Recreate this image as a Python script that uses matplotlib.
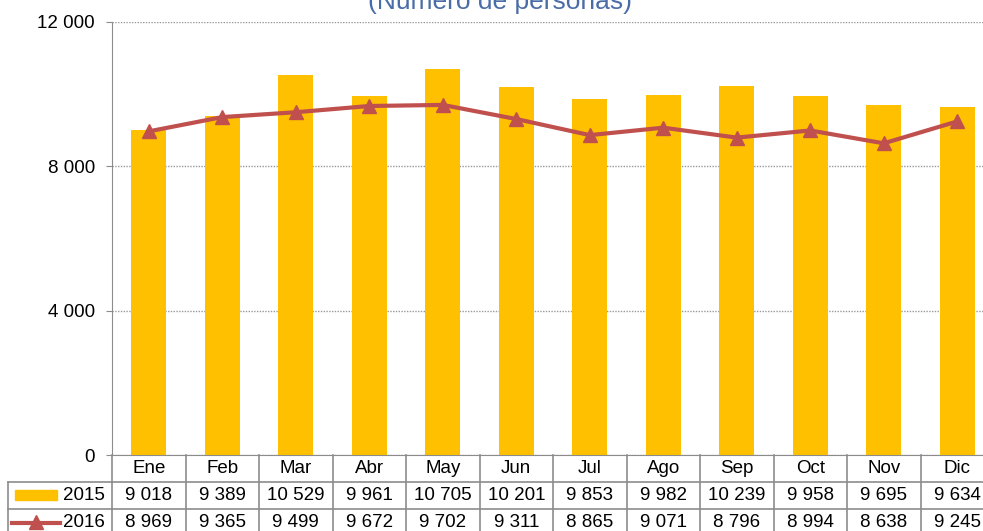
import matplotlib
matplotlib.use("Agg")
import matplotlib.pyplot as plt
from matplotlib.transforms import blended_transform_factory
from matplotlib.lines import Line2D
from matplotlib.patches import Rectangle

plt.rcParams['font.family'] = ['Liberation Sans', 'DejaVu Sans']

# Data
months = ['Ene', 'Feb', 'Mar', 'Abr', 'May', 'Jun', 'Jul', 'Ago', 'Sep', 'Oct', 'Nov', 'Dic']
v2015 = [9018, 9389, 10529, 9961, 10705, 10201, 9853, 9982, 10239, 9958, 9695, 9634]
v2016 = [8969, 9365, 9499, 9672, 9702, 9311, 8865, 9071, 8796, 8994, 8638, 9245]
yticks = [0, 4000, 8000, 12000]

W, H = 983, 531
bar_col = '#FFC000'
line_col = '#C0504D'
grid_col = '#8C8C8C'
fs = 13.5

def fy(py):
    # pixel from top -> figure fraction
    return 1 - py / H

def fmt(v):
    return '{:,}'.format(v).replace(',', ' ')

fig = plt.figure(figsize=(W / 100, H / 100), dpi=100)
ax = fig.add_axes([112 / W, fy(455), (994 - 112) / W, (455 - 22) / H])

x = list(range(len(months)))
ax.bar(x, v2015, width=0.47, color=bar_col, zorder=2)
ax.plot(x, v2016, color=line_col, lw=3, marker='^', ms=10, zorder=3)

ax.set_xlim(-0.5, len(months) - 0.5)
ax.set_ylim(0, 12000)
ax.set_yticks(yticks)
ax.set_yticklabels([fmt(v) for v in yticks], fontsize=fs)
ax.set_xticks([])
ax.yaxis.grid(True, linestyle=(0, (1, 1)), color='#999999', lw=1)
ax.set_axisbelow(True)
for s in ['top', 'right']:
    ax.spines[s].set_visible(False)
ax.spines['left'].set_color(grid_col)
ax.spines['bottom'].set_color(grid_col)
ax.tick_params(axis='y', length=4.3, color=grid_col, pad=8)

fig.text(500 / W, fy(9), '(Número de personas)', ha='center', va='baseline',
         fontsize=19, color='#4A6DA7')

# Data table below the chart
tr = blended_transform_factory(ax.transData, fig.transFigure)
figtr = fig.transFigure
rows = [455, 482, 509, 536]
n = len(months)

def hline(x0, x1, py, transform):
    fig.add_artist(Line2D([x0, x1], [fy(py), fy(py)], color=grid_col, lw=1.2,
                          transform=transform, clip_on=False))

def vline(xx, py0, py1, transform):
    fig.add_artist(Line2D([xx, xx], [fy(py0), fy(py1)], color=grid_col, lw=1.2,
                          transform=transform, clip_on=False))

hline(-0.5, n - 0.5, rows[1], tr)
hline(-0.5, n - 0.5, rows[2], tr)
hline(8 / W, 112 / W, rows[1], figtr)
hline(8 / W, 112 / W, rows[2], figtr)
vline(8 / W, rows[1], rows[3], figtr)
for i in range(n + 1):
    vline(i - 0.5, rows[0], rows[3], tr)

for i, m in enumerate(months):
    fig.text(i, fy((rows[0] + rows[1]) / 2), m, transform=tr, ha='center',
             va='center', fontsize=fs)
    fig.text(i, fy((rows[1] + rows[2]) / 2), fmt(v2015[i]), transform=tr,
             ha='center', va='center', fontsize=fs)
    fig.text(i, fy((rows[2] + rows[3]) / 2), fmt(v2016[i]), transform=tr,
             ha='center', va='center', fontsize=fs)

# legend keys
fig.add_artist(Rectangle((15 / W, fy(500)), 42 / W, 10 / H, color=bar_col,
                         transform=figtr))
fig.add_artist(Line2D([12 / W, 60 / W], [fy(523), fy(523)], color=line_col, lw=3,
                      transform=figtr))
fig.add_artist(Line2D([36 / W], [fy(522)], color=line_col, marker='^', ms=10,
                      transform=figtr))
fig.text(105 / W, fy((rows[1] + rows[2]) / 2), '2015', ha='right', va='center',
         fontsize=fs)
fig.text(105 / W, fy((rows[2] + rows[3]) / 2), '2016', ha='right', va='center',
         fontsize=fs)

fig.savefig('out.png', dpi=100)
